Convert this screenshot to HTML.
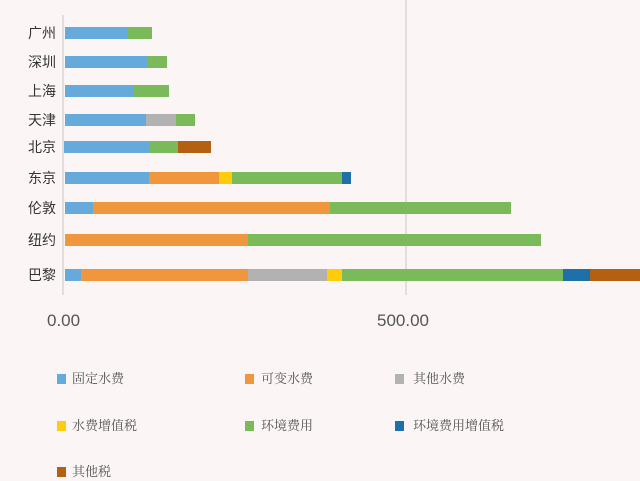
<!DOCTYPE html>
<html><head><meta charset="utf-8"><style>
body{margin:0;width:640px;height:481px;background:#fbf6f5;position:relative;overflow:hidden;font-family:"Liberation Sans","Noto Sans CJK SC",sans-serif}
.b{position:absolute;height:12px}
.c{position:absolute;width:50px;left:6px;text-align:right;font-size:14px;color:#333;line-height:16px}
.t{position:absolute;font-size:17px;color:#555;top:311px}
.ls{position:absolute;width:9px;height:10px}
.lt{position:absolute;font-family:"Liberation Serif","Noto Serif CJK SC",serif;font-size:13px;color:#555;line-height:16px}
.B{background:#66aadc}.O{background:#f0963c}.G{background:#b2b2b2}.Y{background:#fecc0a}.N{background:#7aba5a}.D{background:#1f70a8}.R{background:#b36012}
</style></head><body>
<div style="position:absolute;left:62px;top:15px;width:2px;height:280px;background:#e2dede"></div>
<div style="position:absolute;left:405px;top:0px;width:2px;height:295px;background:#e2dede"></div>

<div class="c" style="top:25px">广州</div>
<div class="b B" style="top:27px;left:65px;width:62px"></div><div class="b N" style="top:27px;left:127px;width:25px"></div>
<div class="c" style="top:54px">深圳</div>
<div class="b B" style="top:56px;left:65px;width:83px"></div><div class="b N" style="top:56px;left:148px;width:19px"></div>
<div class="c" style="top:83px">上海</div>
<div class="b B" style="top:85px;left:65px;width:68px"></div><div class="b N" style="top:85px;left:133px;width:36px"></div>
<div class="c" style="top:112px">天津</div>
<div class="b B" style="top:114px;left:65px;width:81px"></div><div class="b G" style="top:114px;left:146px;width:30px"></div><div class="b N" style="top:114px;left:176px;width:19px"></div>
<div class="c" style="top:139px">北京</div>
<div class="b B" style="top:141px;left:64px;width:85px"></div><div class="b N" style="top:141px;left:149px;width:29px"></div><div class="b R" style="top:141px;left:178px;width:33px"></div>
<div class="c" style="top:170px">东京</div>
<div class="b B" style="top:172px;left:65px;width:84px"></div><div class="b O" style="top:172px;left:149px;width:70px"></div><div class="b Y" style="top:172px;left:219px;width:13px"></div><div class="b N" style="top:172px;left:232px;width:110px"></div><div class="b D" style="top:172px;left:342px;width:9px"></div>
<div class="c" style="top:200px">伦敦</div>
<div class="b B" style="top:202px;left:65px;width:28px"></div><div class="b O" style="top:202px;left:93px;width:237px"></div><div class="b N" style="top:202px;left:330px;width:181px"></div>
<div class="c" style="top:232px">纽约</div>
<div class="b O" style="top:234px;left:65px;width:183px"></div><div class="b N" style="top:234px;left:248px;width:293px"></div>
<div class="c" style="top:267px">巴黎</div>
<div class="b B" style="top:269px;left:65px;width:16px"></div><div class="b O" style="top:269px;left:81px;width:167px"></div><div class="b G" style="top:269px;left:248px;width:79px"></div><div class="b Y" style="top:269px;left:327px;width:15px"></div><div class="b N" style="top:269px;left:342px;width:221px"></div><div class="b D" style="top:269px;left:563px;width:27px"></div><div class="b R" style="top:269px;left:590px;width:50px"></div>

<div class="t" style="left:47px">0.00</div>
<div class="t" style="left:377px">500.00</div>

<div class="ls B" style="left:57px;top:374px"></div><div class="lt" style="left:72px;top:371px">固定水费</div>
<div class="ls O" style="left:245px;top:374px"></div><div class="lt" style="left:261px;top:371px">可变水费</div>
<div class="ls G" style="left:395px;top:374px"></div><div class="lt" style="left:413px;top:371px">其他水费</div>
<div class="ls Y" style="left:57px;top:421px"></div><div class="lt" style="left:72px;top:418px">水费增值税</div>
<div class="ls N" style="left:245px;top:421px"></div><div class="lt" style="left:261px;top:418px">环境费用</div>
<div class="ls D" style="left:395px;top:421px"></div><div class="lt" style="left:413px;top:418px">环境费用增值税</div>
<div class="ls R" style="left:57px;top:467px"></div><div class="lt" style="left:72px;top:464px">其他税</div>
</body></html>
